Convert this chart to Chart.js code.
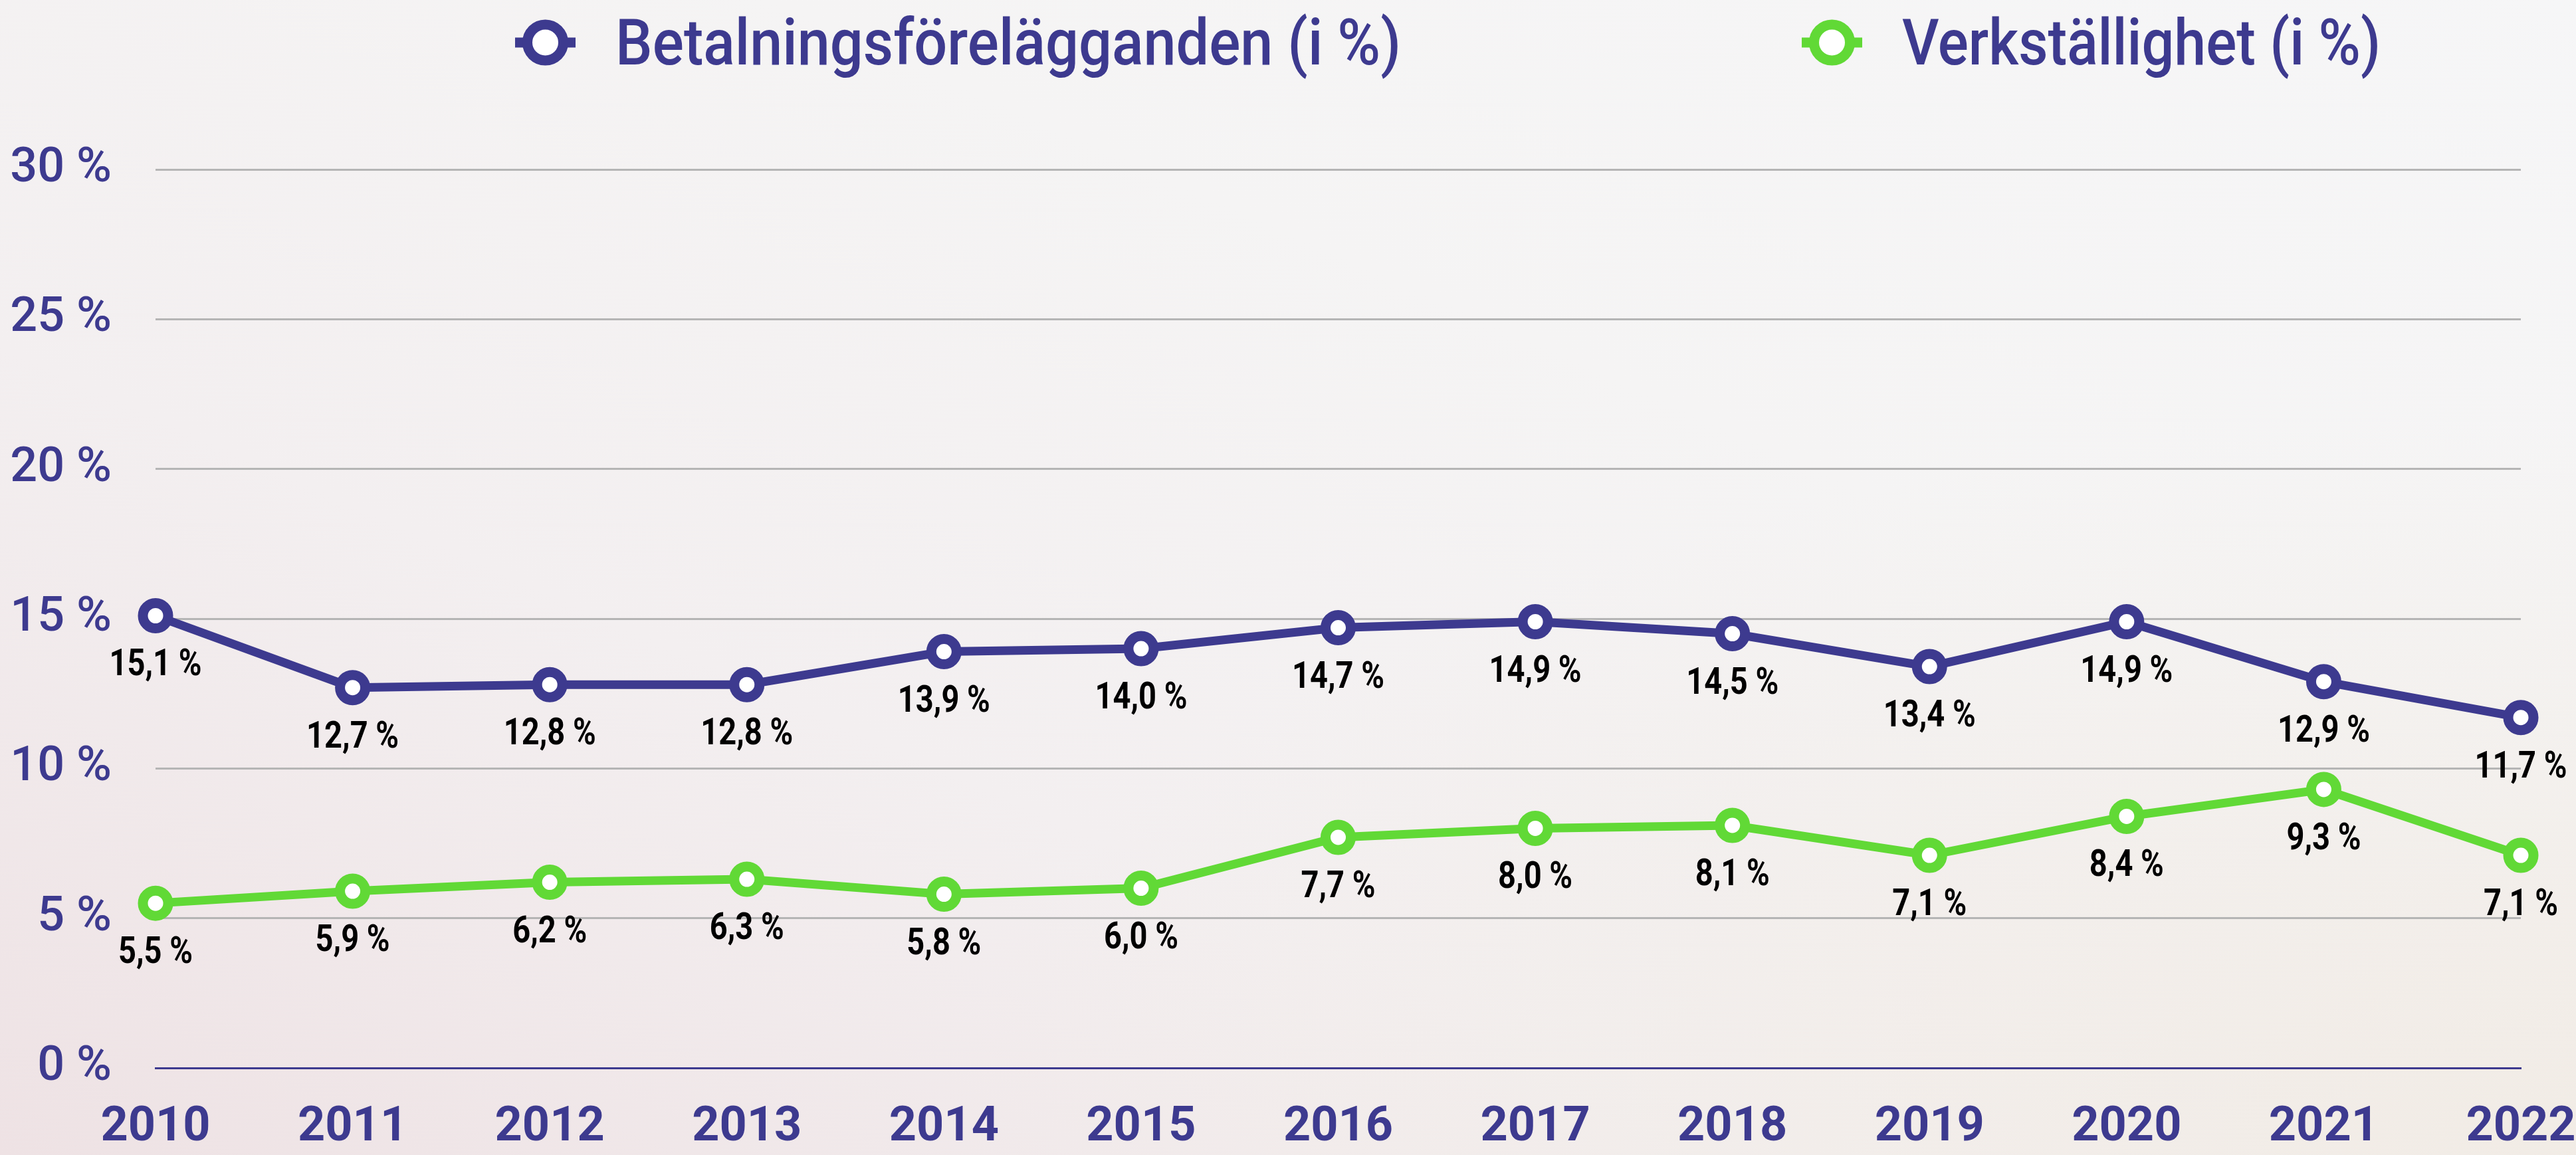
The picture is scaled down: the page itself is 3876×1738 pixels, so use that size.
<!DOCTYPE html>
<html>
<head>
<meta charset="utf-8">
<script src="https://cdn.jsdelivr.net/npm/chart.js@4.4.1/dist/chart.umd.min.js"></script>
<style>
  html, body { margin: 0; padding: 0; overflow: hidden; }
  body {
    width: 3876px; height: 1738px;
    background:
      radial-gradient(ellipse at 100% 100%, rgba(241, 235, 228, 0.9), rgba(241, 235, 228, 0) 45%),
      linear-gradient(to top right, #eee2e4 0%, #f3eff0 35%, #f5f4f4 65%, #f6f6f7 100%);
    font-family: Roboto, sans-serif;
  }
  #wrap { position: absolute; left: 0; top: 0; width: 3876px; height: 1738px; }
  .legend-item {
    position: absolute; top: 16px; height: 95px;
    display: flex; align-items: center;
    color: #3d3a8f; font-weight: 500; font-size: 96px; line-height: 1;
    white-space: nowrap;
  }
  .legend-item svg { margin-right: 60px; flex: none; }
  .legend-item span { display: inline-block; transform-origin: 0 50%; }
</style>
</head>
<body>
<div id="wrap"><canvas id="chart"></canvas></div>
<div id="legend"></div>
<script>
const FONT = 'Roboto, sans-serif';
const BLUE = '#3d3a8f';
const GREEN = '#61d936';

const years = ['2010', '2011', '2012', '2013', '2014', '2015', '2016', '2017', '2018', '2019', '2020', '2021', '2022'];
const betalning = [15.1, 12.7, 12.8, 12.8, 13.9, 14.0, 14.7, 14.9, 14.5, 13.4, 14.9, 12.9, 11.7];
const verkstallighet = [5.5, 5.9, 6.2, 6.3, 5.8, 6.0, 7.7, 8.0, 8.1, 7.1, 8.4, 9.3, 7.1];
const yTicks = [0, 5, 10, 15, 20, 25, 30];

const fmt = (v) => v.toFixed(1).replace('.', ',') + ' %';

// values written under each point (squeezed a little, the original font is narrow)
const valueLabels = {
  id: 'valueLabels',
  afterDatasetsDraw(chart) {
    const ctx = chart.ctx;
    ctx.save();
    ctx.font = 'bold 56px ' + FONT;
    ctx.fillStyle = '#000';
    ctx.textAlign = 'center';
    ctx.textBaseline = 'alphabetic';
    chart.data.datasets.forEach((ds, i) => {
      chart.getDatasetMeta(i).data.forEach((pt, j) => {
        ctx.save();
        ctx.translate(pt.x, pt.y + 90);
        ctx.scale(0.84, 1);
        ctx.fillText(fmt(ds.data[j]), 0, 0);
        ctx.restore();
      });
    });
    ctx.restore();
  }
};

const ctx = document.getElementById('chart').getContext('2d');
const chart = new Chart(ctx, {
  type: 'line',
  data: {
    labels: years,
    datasets: [
      {
        label: 'Betalningsförelägganden (i %)',
        data: betalning,
        borderColor: BLUE,
        borderWidth: 13,
        pointRadius: 19,
        pointBorderWidth: 15,
        pointBackgroundColor: '#fff',
        pointBorderColor: BLUE,
        tension: 0
      },
      {
        label: 'Verkställighet (i %)',
        data: verkstallighet,
        borderColor: GREEN,
        borderWidth: 13,
        pointRadius: 19,
        pointBorderWidth: 15,
        pointBackgroundColor: '#fff',
        pointBorderColor: GREEN,
        tension: 0
      }
    ]
  },
  options: {
    responsive: true,
    maintainAspectRatio: false,
    animation: false,
    events: [],
    layout: { padding: { top: 255, right: 83, bottom: 0, left: 0 } },
    plugins: {
      legend: { display: false },
      tooltip: { enabled: false }
    },
    scales: {
      x: {
        offset: false,
        afterFit: (s) => { s.paddingLeft = 0; s.paddingRight = 0; s.height = 131; },
        grid: { display: false, drawTicks: false },
        border: { display: true, color: BLUE, width: 3 },
        ticks: {
          color: BLUE,
          padding: 55,
          maxRotation: 0,
          autoSkip: false,
          font: { family: FONT, size: 72, weight: 'bold', lineHeight: 1 }
        }
      },
      y: {
        min: 0,
        max: 30,
        afterBuildTicks: (s) => { s.ticks = yTicks.map((v) => ({ value: v })); },
        afterFit: (s) => { s.width = 234; },
        grid: {
          drawTicks: false,
          color: (c) => (c.tick && c.tick.value === 0 ? BLUE : '#b5b5b5'),
          lineWidth: 3
        },
        border: { display: false },
        ticks: {
          color: BLUE,
          padding: 66,
          callback: (v) => v + ' %',
          font: { family: FONT, size: 72, weight: 500, lineHeight: 1 }
        }
      }
    }
  },
  plugins: [valueLabels]
});

// legend in html, built from the datasets
const legendLeft = [775, 2711];
const legendTextWidth = [1182, 720];
const legend = document.getElementById('legend');
chart.data.datasets.forEach((ds, i) => {
  const item = document.createElement('div');
  item.className = 'legend-item';
  item.style.left = legendLeft[i] + 'px';
  item.innerHTML =
    '<svg width="91" height="70" viewBox="0 0 91 70">' +
    '<line x1="0" y1="35" x2="91" y2="35" stroke="' + ds.borderColor + '" stroke-width="15"/>' +
    '<circle cx="45.5" cy="35" r="27" fill="#fff" stroke="' + ds.borderColor + '" stroke-width="15"/>' +
    '</svg><span></span>';
  const span = item.querySelector('span');
  span.textContent = ds.label;
  legend.appendChild(item);
  const w = span.getBoundingClientRect().width;
  span.style.transform = 'scaleX(' + (legendTextWidth[i] / w) + ')';
});
</script>
</body>
</html>
